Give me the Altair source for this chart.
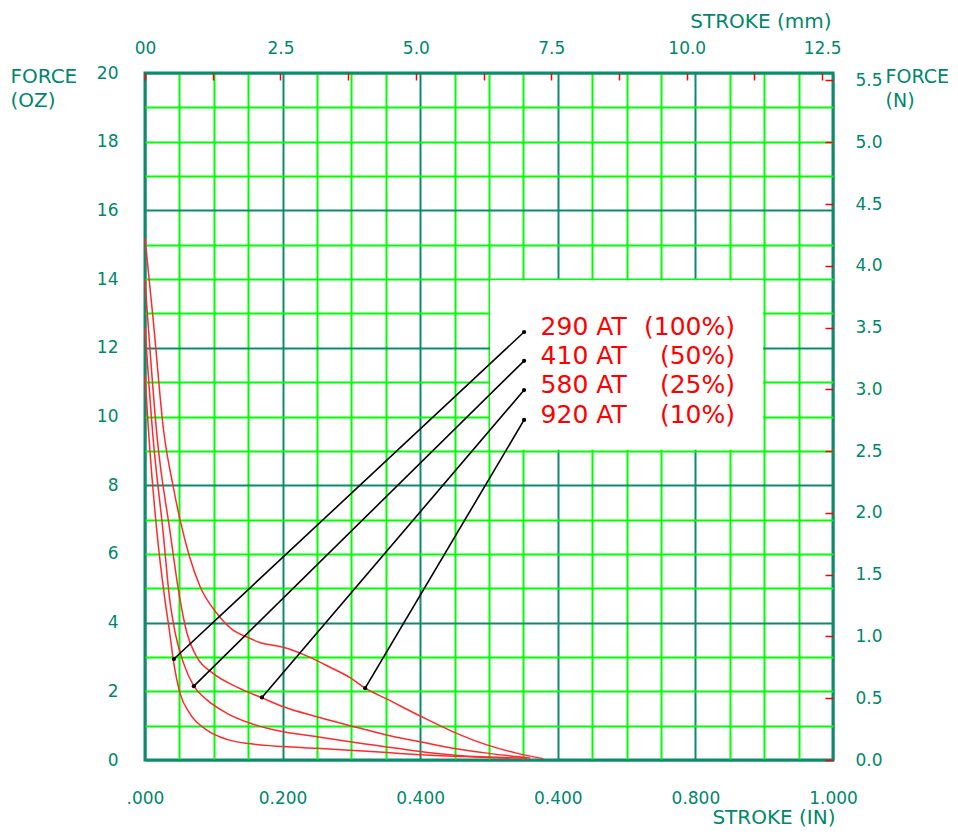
import altair as alt
import pandas as pd

# ---------------- data ----------------
series_names = ["290 AT", "410 AT", "580 AT", "920 AT"]
series_pct = ["(100%)", "(50%)", "(25%)", "(10%)"]

c290_x = [0.000, 0.006, 0.017, 0.029, 0.036, 0.041, 0.051, 0.065, 0.090, 0.119, 0.153, 0.201, 0.250, 0.317, 0.366, 0.414, 0.463, 0.530]
c290_y = [11.18, 9.32, 6.70, 4.66, 3.69, 2.93, 1.94, 1.36, 0.87, 0.60, 0.47, 0.39, 0.34, 0.26, 0.20, 0.14, 0.10, 0.05]

c410_x = [0.000, 0.012, 0.026, 0.036, 0.044, 0.056, 0.071, 0.090, 0.119, 0.153, 0.201, 0.250, 0.298, 0.366, 0.414, 0.463, 0.511, 0.555]
c410_y = [12.58, 9.32, 6.70, 4.66, 3.69, 2.82, 2.15, 1.75, 1.36, 1.07, 0.82, 0.68, 0.53, 0.34, 0.21, 0.12, 0.08, 0.05]

c580_x = [0.000, 0.018, 0.036, 0.051, 0.061, 0.075, 0.099, 0.133, 0.170, 0.201, 0.250, 0.298, 0.351, 0.400, 0.448, 0.497, 0.540, 0.560]
c580_y = [13.97, 9.32, 6.70, 4.66, 3.69, 3.01, 2.52, 2.13, 1.81, 1.55, 1.26, 1.00, 0.73, 0.53, 0.34, 0.20, 0.10, 0.06]

c920_x = [0.000, 0.012, 0.027, 0.041, 0.051, 0.065, 0.080, 0.104, 0.128, 0.148, 0.167, 0.201, 0.235, 0.269, 0.298, 0.320, 0.351, 0.400, 0.448, 0.497, 0.540, 0.579]
c920_y = [15.19, 12.80, 9.60, 7.96, 6.99, 5.90, 5.05, 4.28, 3.78, 3.58, 3.42, 3.28, 3.03, 2.70, 2.40, 2.09, 1.78, 1.28, 0.82, 0.44, 0.20, 0.04]

# pointer lines: point on curve -> legend dot
curve_dot_x = [0.042, 0.071, 0.170, 0.320]
curve_dot_y = [2.94, 2.15, 1.82, 2.09]
legend_dot_x = [0.551, 0.551, 0.551, 0.551]
legend_dot_y = [12.46, 11.62, 10.77, 9.90]

# axes
x_tick_values = [round(i * 0.05, 2) for i in range(21)]
x_label_values = [0.0, 0.2, 0.4, 0.6, 0.8, 1.0]
x_label_texts = [".000", "0.200", "0.400", "0.400", "0.800", "1.000"]
y_tick_values = list(range(0, 21))
mm_tick_values = [round(i * 1.25, 2) for i in range(11)]
mm_label_values = [0.0, 2.5, 5.0, 7.5, 10.0, 12.5]
mm_label_texts = ["00", "2.5", "5.0", "7.5", "10.0", "12.5"]
n_tick_values = [round(i * 0.5, 1) for i in range(12)]

# ---------------- styles ----------------
W, H = 688, 687
FONT = "DejaVu Sans"
TEAL = "#0E8A6F"
TEXT_TEAL = "#00876B"
LIME = "#00FF00"
RED = "#FF0000"
CURVE_RED = "#FF2A2A"
BOX = dict(x0=0.5015, x1=0.8985, y0=9.03, y1=13.97)
LEG_TEXT_X = 0.575
LEG_PCT_X = 0.8576


def label_expr(values, texts):
    e = ""
    for v, t in zip(values, texts):
        e += f"abs(datum.value - {v}) < 1e-6 ? '{t}' : "
    return e + "''"


x_axis = alt.Axis(
    values=x_tick_values, orient="bottom", domain=False, ticks=False, tickSize=0,
    labelExpr=label_expr(x_label_values, x_label_texts), labelOverlap=False, labelFlush=False,
    labelFont=FONT, labelFontSize=17, labelColor=TEXT_TEAL, labelPadding=30,
    grid=True, gridWidth=2,
    gridColor={"condition": {"test": "abs(datum.value*5 - round(datum.value*5)) < 1e-6", "value": TEAL}, "value": LIME},
    title="STROKE (IN)", titleFont=FONT, titleFontSize=20, titleFontWeight="normal", titleColor=TEXT_TEAL,
    titleAlign="right", titleAnchor="start", titleX=690, titleY=63, titleBaseline="alphabetic",
)
y_axis = alt.Axis(
    values=y_tick_values, orient="left", domain=False, ticks=False, tickSize=0,
    labelExpr="datum.value % 2 == 0 ? format(datum.value, 'd') : ''", labelOverlap=False, labelFlush=False,
    labelFont=FONT, labelFontSize=17, labelColor=TEXT_TEAL, labelPadding=27,
    grid=True, gridWidth=2,
    gridColor={"condition": {"test": "datum.value % 4 == 0", "value": TEAL}, "value": LIME},
    title=["FORCE", "(OZ)"], titleFont=FONT, titleFontSize=20, titleFontWeight="normal", titleColor=TEXT_TEAL,
    titleAngle=0, titleAlign="left", titleAnchor="start", titleX=-135, titleY=9,
    titleBaseline="alphabetic", titleLineHeight=24,
)
mm_axis = alt.Axis(
    values=mm_tick_values, orient="top", offset=-7, domain=False, ticks=True, tickSize=7,
    tickColor=RED, tickWidth=1.5,
    labelExpr=label_expr(mm_label_values, mm_label_texts), labelOverlap=False, labelFlush=False,
    labelFont=FONT, labelFontSize=17, labelColor=TEXT_TEAL, labelPadding=20, labelBaseline="alphabetic",
    grid=False,
    title="STROKE (mm)", titleFont=FONT, titleFontSize=20, titleFontWeight="normal", titleColor=TEXT_TEAL,
    titleAlign="right", titleAnchor="start", titleX=686, titleY=-53, titleBaseline="alphabetic",
)
n_axis = alt.Axis(
    values=n_tick_values, orient="right", offset=-8, domain=False, ticks=True, tickSize=8,
    tickColor=RED, tickWidth=1.5, format=".1f", labelOverlap=False, labelFlush=False,
    labelFont=FONT, labelFontSize=17, labelColor=TEXT_TEAL, labelPadding=22,
    grid=False,
    title=["FORCE", "(N)"], titleFont=FONT, titleFontSize=19, titleFontWeight="normal", titleColor=TEXT_TEAL,
    titleAngle=0, titleAlign="left", titleAnchor="start", titleX=60, titleY=9,
    titleBaseline="alphabetic", titleLineHeight=24,
)

xs = alt.Scale(domain=[0, 1.0], nice=False, zero=False)
ys = alt.Scale(domain=[0, 20], nice=False, zero=False)


def X(field):
    return alt.X(f"{field}:Q", scale=xs, axis=x_axis)


def Y(field):
    return alt.Y(f"{field}:Q", scale=ys, axis=y_axis)


# ---------------- tables ----------------
rows = []
for name, xv, yv in zip(series_names, [c290_x, c410_x, c580_x, c920_x], [c290_y, c410_y, c580_y, c920_y]):
    for i, (a, b) in enumerate(zip(xv, yv)):
        rows.append({"series": name, "x": a, "y": b, "i": i})
curves = pd.DataFrame(rows)

ptr = pd.DataFrame({
    "series": series_names, "pct": series_pct,
    "x": curve_dot_x, "y": curve_dot_y, "x2": legend_dot_x, "y2": legend_dot_y,
})
dots = pd.DataFrame({"x": curve_dot_x + legend_dot_x, "y": curve_dot_y + legend_dot_y})
box = pd.DataFrame({"x": [BOX["x0"]], "x2": [BOX["x1"]], "y": [BOX["y0"]], "y2": [BOX["y1"]]})
leg = pd.DataFrame({"series": series_names, "pct": series_pct, "y": legend_dot_y,
                    "xt": [LEG_TEXT_X] * 4, "xp": [LEG_PCT_X] * 4})
extra = pd.DataFrame({"mm": [0, 12.7], "N": [0, 20 * 0.2780139]})

# ---------------- layers ----------------
box_layer = alt.Chart(box).mark_rect(color="white").encode(x=X("x"), x2="x2", y=Y("y"), y2="y2")
line_layer = alt.Chart(curves).mark_line(color=CURVE_RED, strokeWidth=1.5, interpolate="monotone").encode(
    x=X("x"), y=Y("y"), detail="series:N", order="i:Q")
ptr_layer = alt.Chart(ptr).mark_rule(color="black", strokeWidth=1.6).encode(x=X("x"), y=Y("y"), x2="x2", y2="y2")
dot_layer = alt.Chart(dots).mark_circle(color="black", size=18, opacity=1).encode(x=X("x"), y=Y("y"))
txt_layer = alt.Chart(leg).mark_text(align="left", baseline="middle", dy=-5, font=FONT, fontSize=25, color=RED).encode(
    x=X("xt"), y=Y("y"), text="series:N")
pct_layer = alt.Chart(leg).mark_text(align="right", baseline="middle", dy=-5, font=FONT, fontSize=25, color=RED).encode(
    x=X("xp"), y=Y("y"), text="pct:N")

main = alt.layer(box_layer, line_layer, ptr_layer, dot_layer, txt_layer, pct_layer)

side = alt.Chart(extra).mark_point(opacity=0).encode(
    x=alt.X("mm:Q", scale=alt.Scale(domain=[0, 12.7], nice=False, zero=False), axis=mm_axis),
    y=alt.Y("N:Q", scale=alt.Scale(domain=[0, 20 * 0.2780139], nice=False, zero=False), axis=n_axis),
)

chart = alt.layer(main, side).resolve_scale(x="independent", y="independent").properties(
    width=W, height=H,
    padding={"left": 137, "top": 65, "right": 117, "bottom": 70},
    autosize=alt.AutoSizeParams(type="none"),
    background="white",
).configure_view(stroke=TEAL, strokeWidth=3)

chart.save("out.html", embed_options={"renderer": "svg", "actions": False})
